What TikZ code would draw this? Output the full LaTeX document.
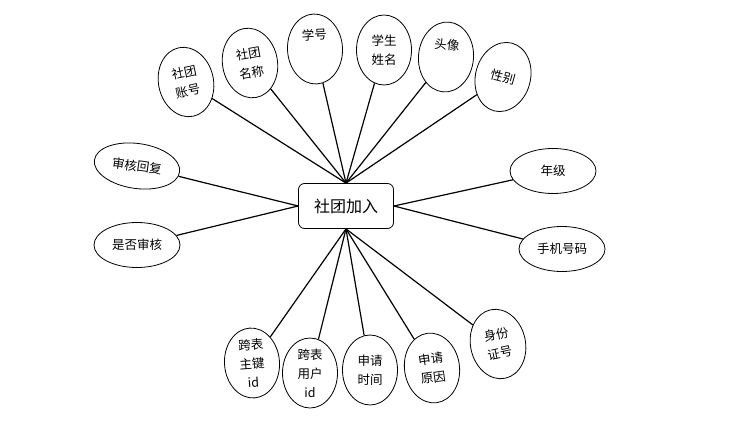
\documentclass[tikz,border=0pt]{standalone}
\usepackage{fontspec}
\setmainfont{Noto Sans CJK SC}
\usetikzlibrary{shapes.geometric}
\tikzset{
  attrnode/.style={
    draw,
    ellipse,
    line width=0.8pt,
    align=center,
    font=\fontsize{12.5}{19}\selectfont,
    inner sep=0pt,
    minimum width=55pt,
    minimum height=70pt
  },
  attrwide/.style={
    attrnode,
    minimum width=86pt,
    minimum height=45pt
  },
  entitybox/.style={
    draw,
    rectangle,
    rounded corners=6pt,
    line width=0.8pt,
    align=center,
    font=\fontsize{16}{20}\selectfont,
    minimum width=95pt,
    minimum height=45pt,
    inner sep=2pt
  },
  erline/.style={
    line width=1.2pt
  }
}
\begin{document}
\begin{tikzpicture}[x=1pt, y=-1pt]
    \useasboundingbox (0,0) rectangle (736,425);

    \node[entitybox] (join) at (346,206) {社团加入};

    % upper attributes
    \node[attrnode, rotate=12] (zhanghao) at (186,82) {社团\\账号};
    \node[attrnode, rotate=10] (mingcheng) at (250,63) {社团\\名称};
    \node[attrnode, rotate=3] (xuehao) at (315,49) {学号\\[10pt]};
    \node[attrnode] (xingming) at (384,50) {学生\\姓名};
    \node[attrnode, rotate=-5] (touxiang) at (446,57) {头像\\[6pt]};
    \node[attrnode, rotate=-15] (xingbie) at (503,77) {性别};

    % side attributes
    \node[attrwide, rotate=-8] (huifu) at (137,166) {审核回复};
    \node[attrwide] (shenhe) at (137,245) {是否审核};
    \node[attrwide] (nianji) at (553,171) {年级};
    \node[attrwide] (shouji) at (562,249) {手机号码};

    % lower attributes
    \node[attrnode, rotate=4] (zhujian) at (252,363) {跨表\\主键\\id};
    \node[attrnode] (yonghu) at (310,373) {跨表\\用户\\id};
    \node[attrnode] (shijian) at (370,370) {申请\\时间};
    \node[attrnode, rotate=8] (yuanyin) at (432,368) {申请\\原因};
    \node[attrnode, rotate=12] (shenfen) at (498,344) {身份\\证号};

    \foreach \a in {zhanghao,mingcheng,xuehao,xingming,touxiang,xingbie}
      \draw[erline] (\a) -- (join.north);
    \foreach \a in {zhujian,yonghu,shijian,yuanyin,shenfen}
      \draw[erline] (\a) -- (join.south);
    \draw[erline] (huifu) -- (join.west);
    \draw[erline] (shenhe) -- (join.west);
    \draw[erline] (nianji) -- (join.east);
    \draw[erline] (shouji) -- (join.east);

\end{tikzpicture}
\end{document}
